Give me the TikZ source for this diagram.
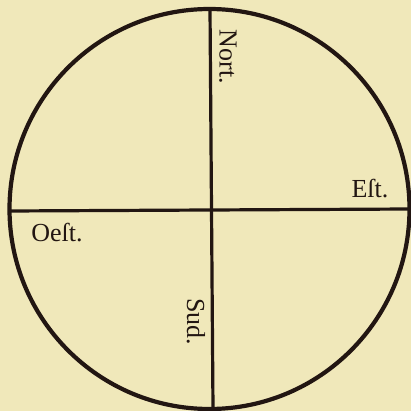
\documentclass[tikz,border=0pt]{standalone}
\usepackage{fontspec}
\setmainfont{Liberation Serif}
\definecolor{paper}{RGB}{240,232,186}
\definecolor{ink}{RGB}{34,22,18}
\begin{document}
\begin{tikzpicture}[x=1pt,y=-1pt,
  rim/.style={draw=ink,line width=4.2pt},
  axis/.style={draw=ink,line width=3.2pt},
  lab/.style={text=ink,font=\fontsize{26}{26}\selectfont,inner sep=0pt}]
\fill[paper] (0,0) rectangle (411,411);
\useasboundingbox (0,0) rectangle (411,411);
\coordinate (C) at (209.5,209);
\draw[rim] (C) circle (200);
\coordinate (N) at (210,9);
\coordinate (S) at (213,409);
\coordinate (W) at (9,211);
\coordinate (E) at (410,209);
\draw[axis] (N) -- (S);
\draw[axis] (W) -- (E);
\node[lab,rotate=-90] (nort) at (228,57) {Nort.};
\node[lab] (est) at (370,189) {Eſt.};
\node[lab] (oest) at (57,233) {Oeſt.};
\node[lab,rotate=-90] (sud) at (196,322) {Sud.};
\end{tikzpicture}
\end{document}
